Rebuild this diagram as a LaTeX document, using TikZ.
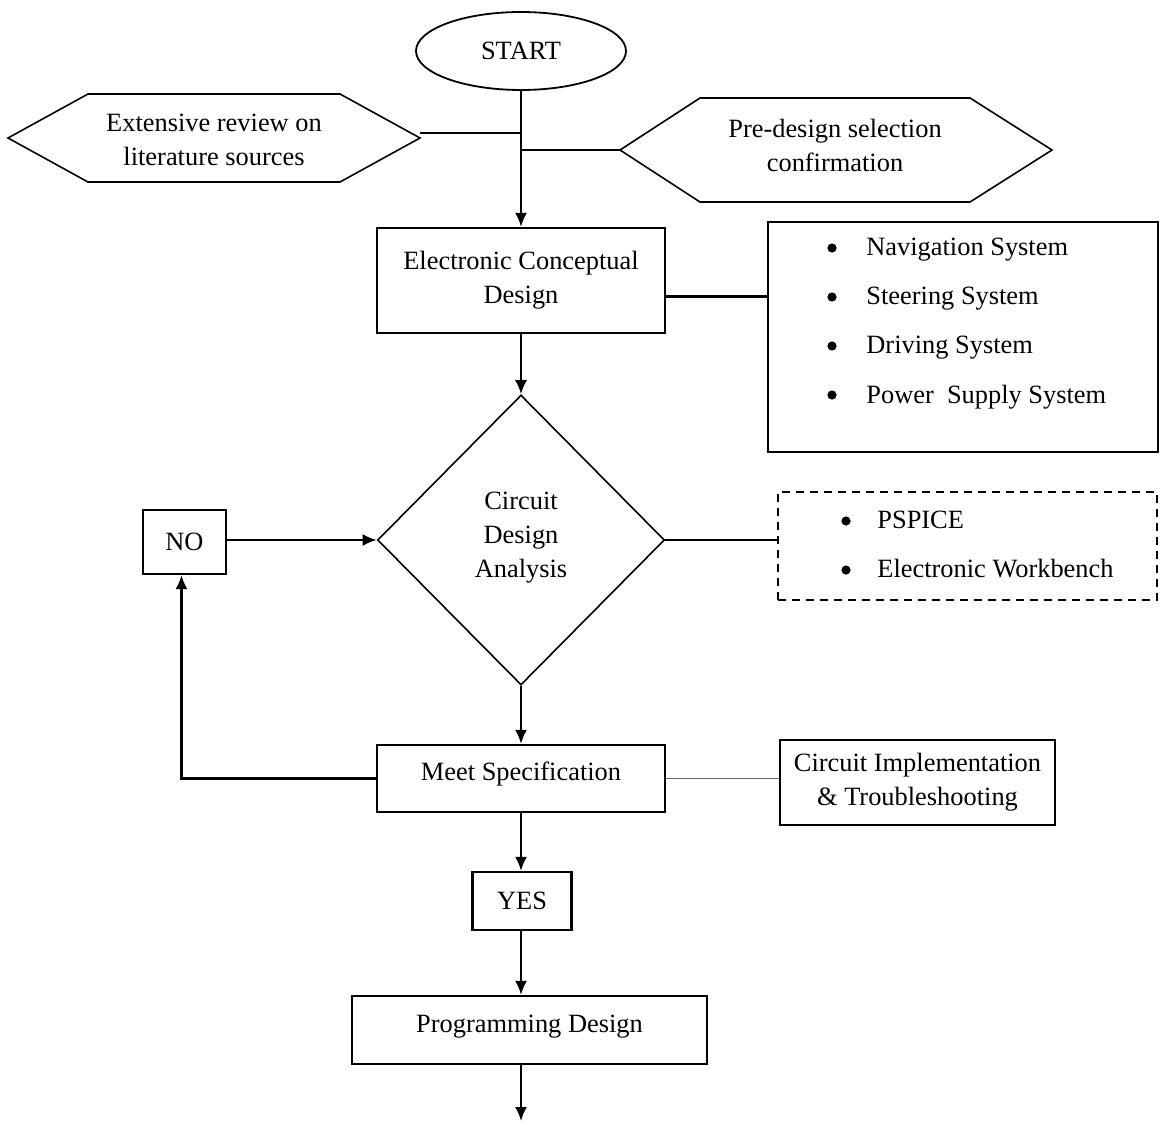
\documentclass[tikz,border=0pt]{standalone}
\usepackage{fontspec}
\setmainfont{Liberation Serif}
\usetikzlibrary{shapes.geometric,arrows.meta,calc}
\begin{document}
\begin{tikzpicture}[x=0.5pt,y=-0.5pt,
  every node/.style={font=\fontsize{13.2}{17}\selectfont, align=center, inner sep=0pt},
  box/.style={draw, line width=1.1pt, rectangle},
  ln/.style={line width=1.1pt},
  arr/.style={line width=1.1pt, -{Latex[length=7pt,width=6pt]}},
  item/.style={anchor=west},
  dot/.style={circle, fill, minimum size=4.6pt}]
\useasboundingbox (0,0) rectangle (1160,1124);

% start
\node[draw, ellipse, line width=0.9pt, minimum width=105pt, minimum height=39pt] (start) at (521,51) {START};

% left hexagon
\draw[line width=0.8pt] (8,138) -- (88,94) -- (340,94) -- (420,138) -- (340,182) -- (88,182) -- cycle;
\coordinate (litR) at (420,133);
\node (lit) at (214,140) {Extensive review on\\literature sources};

% right hexagon
\draw[line width=0.8pt] (620,150) -- (700,98) -- (970,98) -- (1052,150) -- (970,202) -- (700,202) -- cycle;
\coordinate (preL) at (620,150);
\node (pre) at (835,145) {Pre-design selection\\confirmation};

% electronic conceptual design
\node[box, minimum width=144pt, minimum height=52.5pt] (ecd) at (521,280.5) {Electronic Conceptual\\Design};

% list box
\node[box, minimum width=195pt, minimum height=115pt] (list) at (963,337) {};
\foreach \y/\t [count=\i] in {250/Navigation System,299/Steering System,348/Driving System,397/Power\ \ Supply System}{
  \node[dot] (b\i) at (832,\y-2) {};
  \node[item] (t\i) at (866,\y) {\t};
}

% diamond
\node[draw, diamond, line width=0.8pt, minimum width=143.5pt, minimum height=145pt] (cda) at (521,540) {};
\node (cdat) at (521,538) {Circuit\\Design\\Analysis};

% NO
\node[box, minimum width=41.5pt, minimum height=32pt] (no) at (184.5,542) {NO};

% dashed sim box
\node[draw, line width=0.9pt, dash pattern=on 4pt off 3pt, minimum width=189.5pt, minimum height=54pt] (sim) at (967.5,546) {};
\node[dot] (s1) at (846,521) {};
\node[item] (st1) at (877,520) {PSPICE};
\node[dot] (s2) at (846,570) {};
\node[item] (st2) at (877,569) {Electronic Workbench};

% meet specification
\node[box, minimum width=144pt, minimum height=33.5pt] (ms) at (521,778.5) {};
\node (mst) at (521,774) {Meet Specification};

% circuit implementation
\node[box, minimum width=137.5pt, minimum height=42.5pt] (ci) at (917.5,782.5) {Circuit Implementation\\\&\ Troubleshooting};

% YES
\node[box, minimum width=49.5pt, minimum height=29pt] (yes) at (522,901) {YES};

% programming design
\node[box, minimum width=177.5pt, minimum height=34pt] (pd) at (529.5,1030) {};
\node (pdt) at (529.5,1027) {Programming Design};
\coordinate (fin) at (521,1121);

% connectors
\draw[arr] (start.south) -- (start.south |- ecd.north);
\draw[ln] (litR) -- (litR -| start.south);
\draw[ln] (preL) -- (preL -| start.south);
\draw[ln] ([yshift=-8pt]ecd.east) -- ([yshift=-8pt]ecd.east -| list.west);
\draw[arr] (ecd.south) -- (cda.north);
\draw[arr] (no.east |- cda.west) -- (cda.west);
\draw[ln] (cda.east) -- (cda.east -| sim.west);
\draw[arr] (cda.south) -- (ms.north);
\draw[arr] (ms.west) -| ([xshift=-1.5pt]no.south);
\draw[line width=0.8pt, black!60] (ms.east) -- (ms.east -| ci.west);
\draw[arr] (ms.south) -- (ms.south |- yes.north);
\draw[arr] (ms.south |- yes.south) -- (ms.south |- pd.north);
\draw[arr] (fin |- pd.south) -- (fin);
\end{tikzpicture}
\end{document}
